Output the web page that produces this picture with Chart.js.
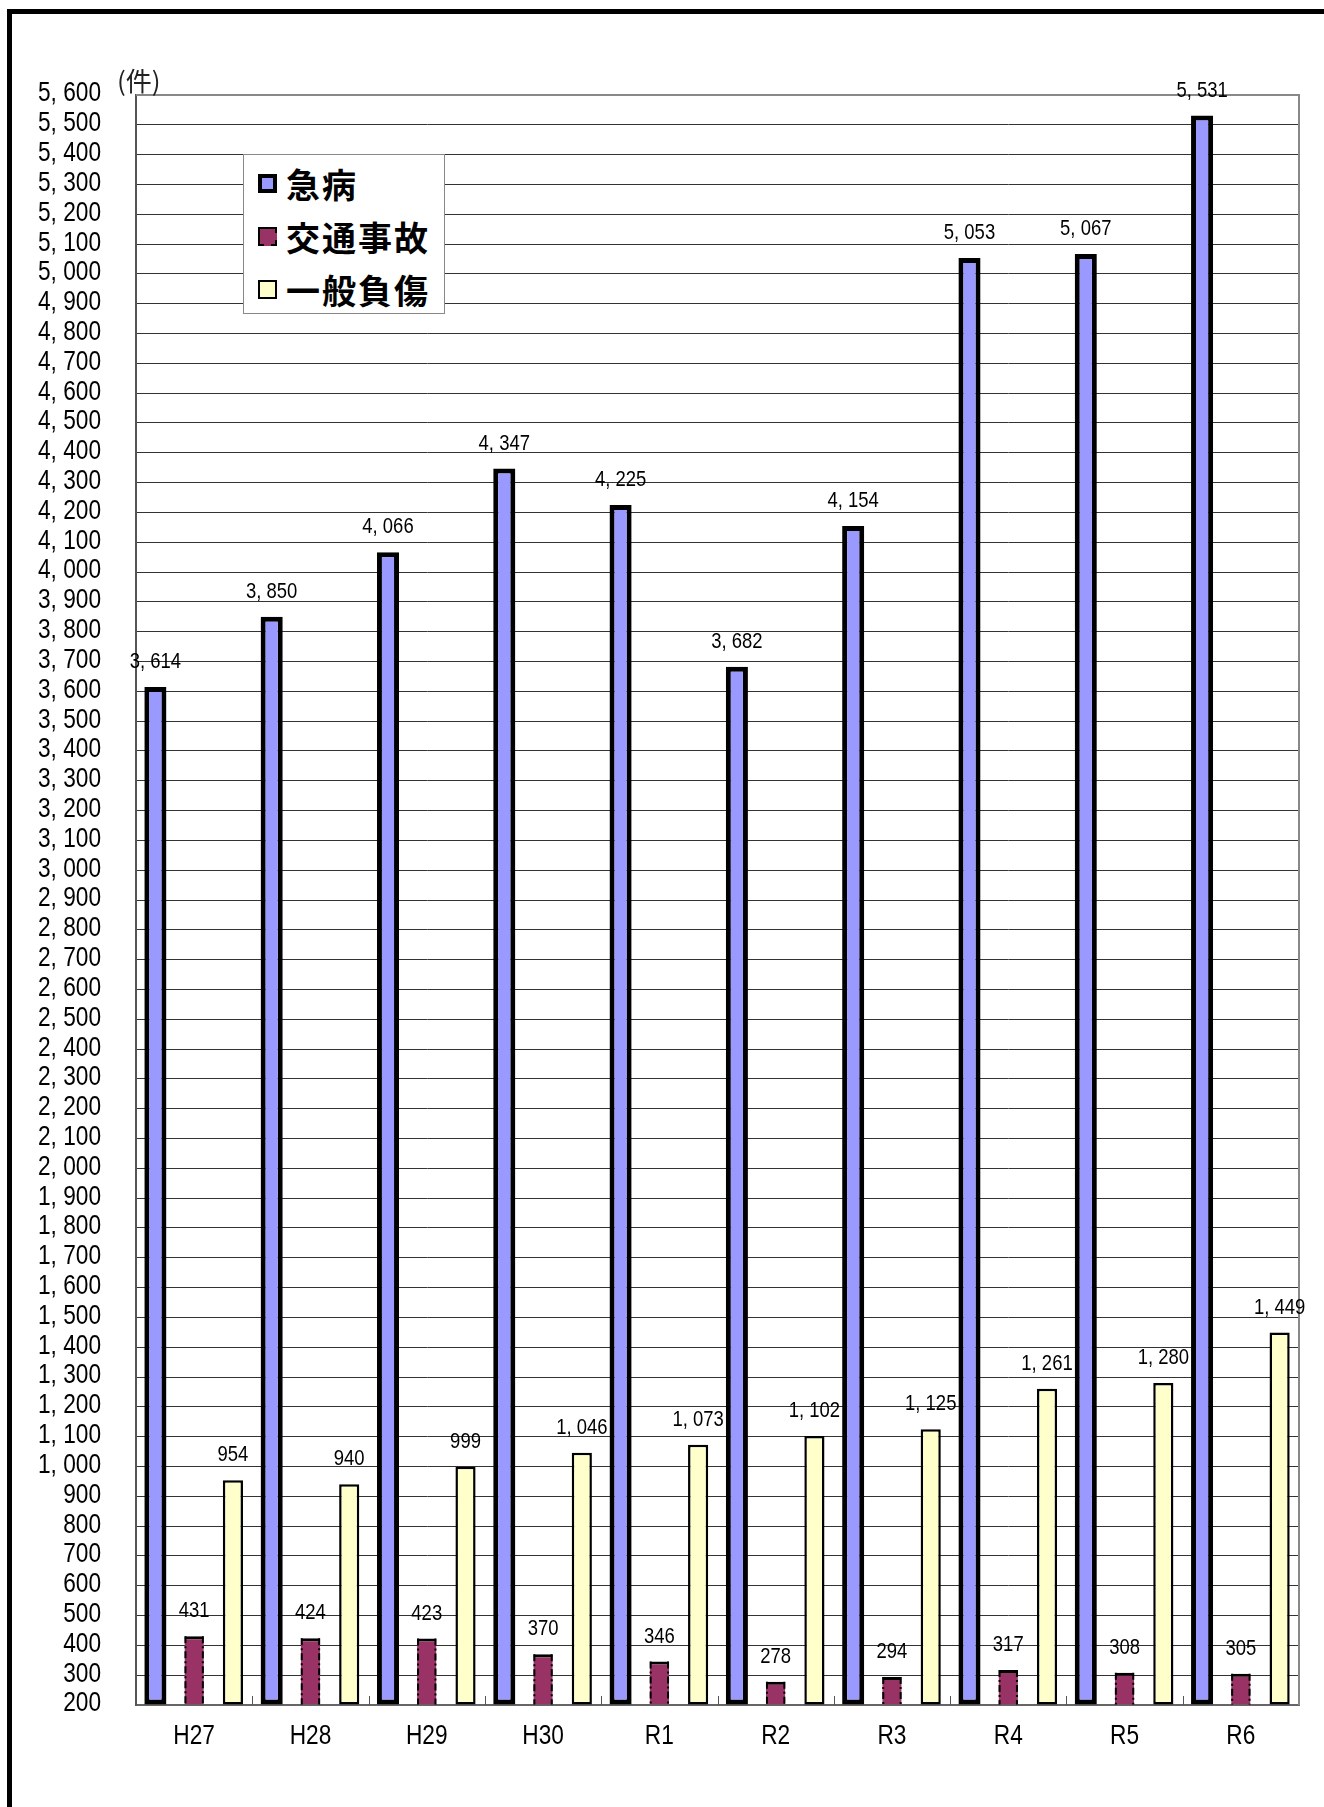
<!DOCTYPE html>
<html lang="ja">
<head>
<meta charset="utf-8">
<title>救急出動件数</title>
<script src="https://cdn.jsdelivr.net/npm/chart.js@4.4.1/dist/chart.umd.min.js"></script>
<style>
  html, body { margin: 0; padding: 0; background: #fff; }
  body { width: 1324px; height: 1807px; position: relative; overflow: hidden; }
  #frame { position: absolute; left: 7px; top: 9px; right: -10px; bottom: -10px;
           border-left: 5px solid #000; border-top: 5px solid #000; }
  #wrap { position: absolute; left: 0; top: 0; width: 1324px; height: 1807px; }
  #unit { position: absolute; left: 117px; top: 61px; font: 26px "Noto Sans CJK JP", sans-serif; color: #222; }
  #legend { position: absolute; left: 243px; top: 154px; width: 202px; height: 160px;
            border: 1px solid #888; background: #fff; padding-top: 2px; box-sizing: border-box; }
  .item { height: 53px; display: flex; align-items: center; }
  .sw { width: 19px; height: 19px; margin-left: 14px; margin-right: 9px; box-sizing: border-box; }
  .lbl { font: bold 34px "Noto Sans CJK JP", sans-serif; letter-spacing: 2px; color: #000; line-height: 1; }
</style>
</head>
<body>
<div id="frame"></div>
<div id="wrap"><canvas id="myChart"></canvas></div>
<div id="unit">(件)</div>
<div id="legend"></div>
<script>
var years = ['H27', 'H28', 'H29', 'H30', 'R1', 'R2', 'R3', 'R4', 'R5', 'R6'];
var illness = [3614, 3850, 4066, 4347, 4225, 3682, 4154, 5053, 5067, 5531];
var traffic = [431, 424, 423, 370, 346, 278, 294, 317, 308, 305];
var injury = [954, 940, 999, 1046, 1073, 1102, 1125, 1261, 1280, 1449];
var yMin = 200;
var yMax = 5600;
var yStep = 100;

var numFont = '"Liberation Sans", sans-serif';
var squeeze = 0.84; // the original uses a narrow gothic face

function fmt(v) {
  var s = String(v);
  if (v >= 1000) {
    s = Math.floor(v / 1000) + ', ' + String(v % 1000).padStart(3, '0');
  }
  return s;
}

function narrowText(ctx, text, x, y, size, align) {
  ctx.save();
  ctx.font = size + 'px ' + numFont;
  ctx.fillStyle = '#000';
  ctx.textAlign = align;
  ctx.textBaseline = 'middle';
  ctx.translate(x, y);
  ctx.scale(squeeze, 1);
  ctx.fillText(text, 0, 0);
  ctx.restore();
}

// tick labels and value labels, placed from the chart scales
var labels = {
  id: 'labels',
  afterDraw: function(chart) {
    var ctx = chart.ctx;
    var area = chart.chartArea;
    var x = chart.scales.x;
    var y = chart.scales.y;
    y.ticks.forEach(function(t) {
      narrowText(ctx, fmt(t.value), area.left - 35, y.getPixelForValue(t.value) - 1, 27, 'right');
    });
    years.forEach(function(name, i) {
      narrowText(ctx, name, x.getPixelForTick(i), area.bottom + 32, 27, 'center');
    });
    chart.data.datasets.forEach(function(ds, i) {
      chart.getDatasetMeta(i).data.forEach(function(bar, j) {
        narrowText(ctx, fmt(ds.data[j]), bar.x, bar.y - 25, 22, 'center');
      });
    });
  }
};

// dash-dot sides on the traffic bars, frame lines and small ticks
var extras = {
  id: 'extras',
  afterDatasetsDraw: function(chart) {
    var ctx = chart.ctx;
    var area = chart.chartArea;
    var x = chart.scales.x;
    ctx.save();
    ctx.strokeStyle = '#000';
    ctx.lineWidth = 2;
    ctx.setLineDash([7, 3, 2, 3]);
    chart.getDatasetMeta(1).data.forEach(function(bar) {
      var half = bar.width / 2;
      ctx.beginPath();
      ctx.moveTo(bar.x - half + 1, bar.y);
      ctx.lineTo(bar.x - half + 1, bar.base);
      ctx.moveTo(bar.x + half - 1, bar.y);
      ctx.lineTo(bar.x + half - 1, bar.base);
      ctx.stroke();
    });
    ctx.setLineDash([]);
    ctx.strokeStyle = '#888';
    ctx.lineWidth = 2;
    ctx.beginPath();
    ctx.moveTo(area.left, area.top);
    ctx.lineTo(area.right, area.top);
    ctx.lineTo(area.right, area.bottom);
    ctx.stroke();
    ctx.strokeStyle = '#555';
    ctx.lineWidth = 1;
    for (var i = 0; i < years.length - 1; i++) {
      var bx = Math.round((x.getPixelForTick(i) + x.getPixelForTick(i + 1)) / 2) + 0.5;
      ctx.beginPath();
      ctx.moveTo(bx, area.bottom);
      ctx.lineTo(bx, area.bottom - 9);
      ctx.stroke();
    }
    ctx.restore();
  }
};

Chart.defaults.font.family = numFont;
Chart.defaults.color = '#000';

var ctx = document.getElementById('myChart').getContext('2d');
var myChart = new Chart(ctx, {
  type: 'bar',
  data: {
    labels: years,
    datasets: [
      {
        label: '急病',
        data: illness,
        backgroundColor: '#9999ff',
        borderColor: '#000',
        borderWidth: 5,
        borderSkipped: false,
        barPercentage: 0.57,
        base: yMin
      },
      {
        label: '交通事故',
        data: traffic,
        backgroundColor: '#993366',
        borderColor: '#000',
        borderWidth: { top: 3, left: 0, right: 0, bottom: 0 },
        borderSkipped: false,
        barPercentage: 0.5,
        base: yMin
      },
      {
        label: '一般負傷',
        data: injury,
        backgroundColor: '#ffffcc',
        borderColor: '#000',
        borderWidth: 2.5,
        borderSkipped: false,
        barPercentage: 0.52,
        base: yMin
      }
    ]
  },
  options: {
    responsive: true,
    maintainAspectRatio: false,
    animation: false,
    datasets: { bar: { categoryPercentage: 1.0 } },
    layout: { padding: { left: 0, right: 25, top: 95, bottom: 42 } },
    plugins: {
      legend: { display: false },
      tooltip: { enabled: false }
    },
    scales: {
      x: {
        offset: true,
        grid: { display: false },
        border: { color: '#666', width: 2 },
        ticks: { display: false },
        afterFit: function(scale) { scale.height = 60; }
      },
      y: {
        min: yMin,
        max: yMax,
        grid: { color: '#333', lineWidth: 1, drawTicks: false },
        border: { color: '#555', width: 2 },
        ticks: { stepSize: yStep, autoSkip: false, display: false },
        afterFit: function(scale) { scale.width = 136; }
      }
    }
  },
  plugins: [extras, labels]
});

// legend built from the datasets
var legendEl = document.getElementById('legend');
myChart.data.datasets.forEach(function(ds, i) {
  var item = document.createElement('div');
  item.className = 'item';
  var sw = document.createElement('div');
  sw.className = 'sw';
  sw.style.background = ds.backgroundColor;
  sw.style.border = (i === 0 ? 4 : 2) + 'px solid #000';
  if (i === 1) { sw.style.borderStyle = 'solid dashed dashed solid'; }
  var lbl = document.createElement('span');
  lbl.className = 'lbl';
  lbl.textContent = ds.label;
  item.appendChild(sw);
  item.appendChild(lbl);
  legendEl.appendChild(item);
});
</script>
</body>
</html>
